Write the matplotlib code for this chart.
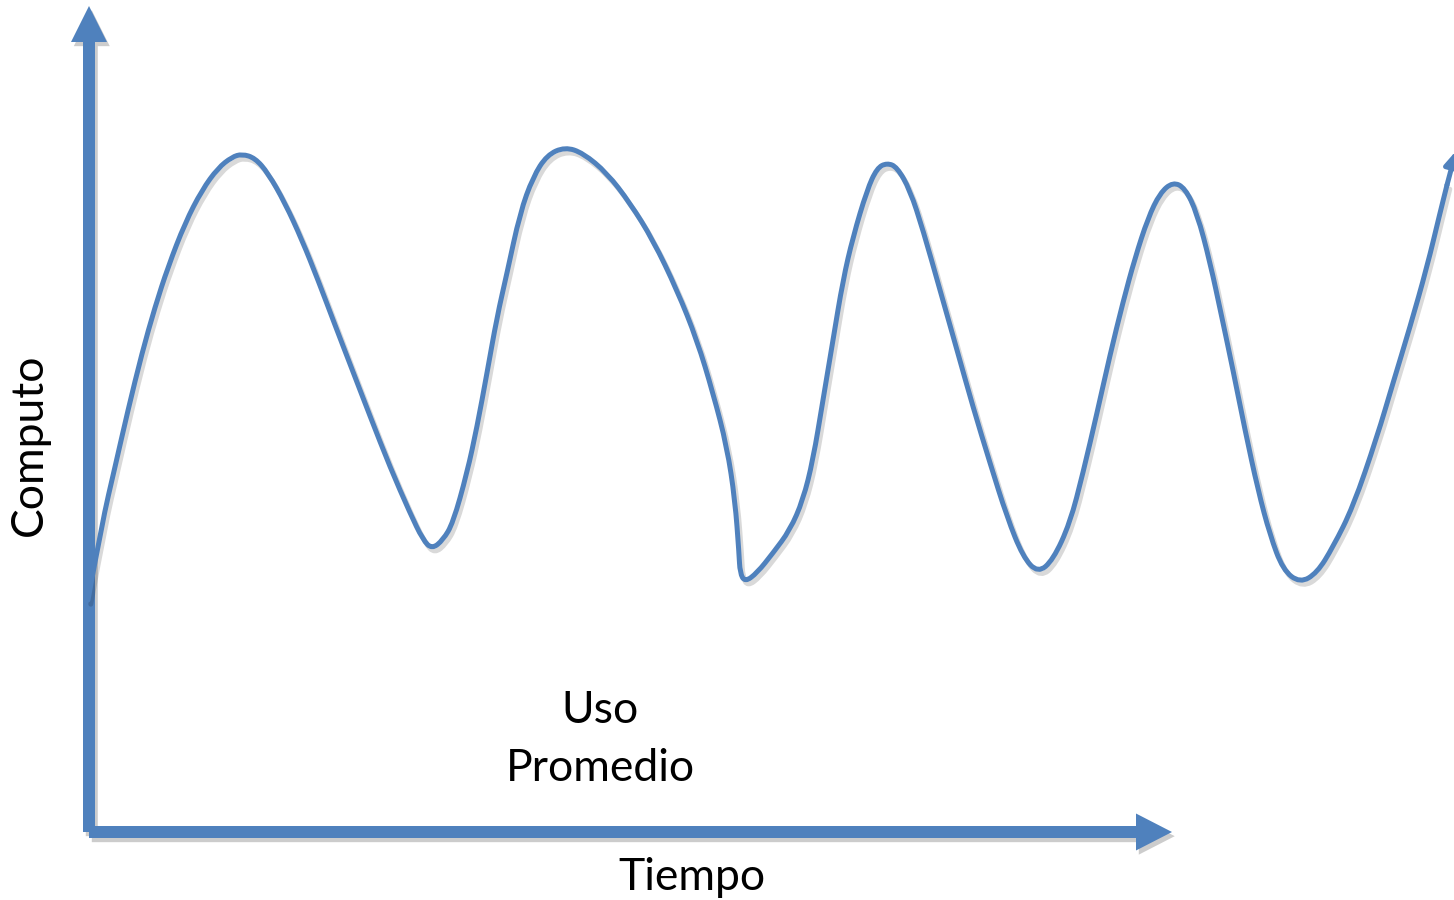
import matplotlib
matplotlib.use("Agg")
import matplotlib.pyplot as plt
import matplotlib.patheffects as pe
from matplotlib.patches import FancyArrow, PathPatch
from matplotlib.path import Path

# curve (pixel coords, y grows downwards)
curve_x = [88, 102, 115, 128, 142, 155, 168, 185, 202, 218, 232, 242, 255, 268,
           285, 302, 318, 335, 350, 370, 390, 410, 423, 432, 443, 453, 467, 477,
           487, 497, 507, 520, 533, 547, 565, 583, 607, 630, 653, 677, 697, 713,
           727, 735, 739, 740, 745, 757, 773, 790, 803, 813, 823, 833, 843, 853,
           867, 877, 887, 897, 910, 923, 940, 957, 973, 990, 1007, 1023, 1038,
           1053, 1070, 1083, 1097, 1110, 1123, 1135, 1148, 1160, 1173, 1185, 1197,
           1210, 1222, 1233, 1245, 1258, 1270, 1283, 1300, 1317, 1333, 1353, 1377,
           1393, 1410, 1427, 1440, 1447]
curve_y = [600, 523, 467, 410, 353, 307, 267, 223, 190, 168, 157, 154, 158, 173,
           203, 240, 280, 325, 364, 416, 467, 513, 540, 549, 540, 523, 473, 427,
           373, 317, 273, 213, 177, 155, 147, 153, 173, 203, 240, 290, 340, 393,
           447, 500, 553, 573, 582, 573, 553, 530, 500, 460, 400, 340, 280, 237,
           190, 168, 163, 167, 190, 230, 290, 350, 407, 463, 517, 557, 573, 560,
           523, 473, 413, 355, 302, 258, 218, 193, 182, 188, 213, 262, 318, 370,
           430, 490, 535, 570, 583, 573, 547, 507, 437, 383, 327, 267, 213, 185]
curve_tip = (1456, 151)

x_label = "Tiempo"
y_label = "Computo"
avg_label = ["Uso", "Promedio"]

BLUE = "#4F81BD"
W, H = 1454, 900

fig = plt.figure(figsize=(W / 100, H / 100), dpi=100)
ax = fig.add_axes([0, 0, 1, 1])
ax.set_xlim(0, W)
ax.set_ylim(H, 0)
ax.axis("off")

patch_shadow = [pe.SimplePatchShadow(offset=(2, -3), shadow_rgbFace="k", alpha=0.2), pe.Normal()]
line_shadow = [pe.SimpleLineShadow(offset=(2, -3), shadow_color="k", alpha=0.15), pe.Normal()]

# axes arrows
ax.add_patch(FancyArrow(89, 832, 0, 6 - 832, width=12, head_width=36, head_length=36,
                        length_includes_head=True, color=BLUE, lw=0,
                        path_effects=patch_shadow))
ax.add_patch(FancyArrow(89, 832, 1172 - 89, 0, width=12, head_width=37, head_length=36,
                        length_includes_head=True, color=BLUE, lw=0,
                        path_effects=patch_shadow))

# smooth curve: quadratic segments through midpoints of the read points
pts = list(zip(curve_x, curve_y))
verts = [pts[0]]
codes = [Path.MOVETO]
for i in range(1, len(pts) - 1):
    mid = ((pts[i][0] + pts[i + 1][0]) / 2, (pts[i][1] + pts[i + 1][1]) / 2)
    verts += [pts[i], mid]
    codes += [Path.CURVE3, Path.CURVE3]
verts.append(pts[-1])
codes.append(Path.LINETO)
ax.add_patch(PathPatch(Path(verts, codes), facecolor="none", edgecolor=BLUE, lw=3.6,
                       capstyle="round", joinstyle="round", path_effects=line_shadow))

ax.annotate("", xy=curve_tip, xytext=pts[-1], annotation_clip=False,
            arrowprops=dict(arrowstyle="-|>", color=BLUE, lw=3.6, mutation_scale=22,
                            shrinkA=0, shrinkB=0))

font = dict(family=["Lato", "DejaVu Sans"], color="black", fontsize=32)
ax.text(692, 890, x_label, ha="center", va="baseline", **font)
ax.text(29, 445, y_label, ha="center", va="center", rotation=90, **font)
ax.text(600, 723, avg_label[0], ha="center", va="baseline", **font)
ax.text(600, 781, avg_label[1], ha="center", va="baseline", **font)

fig.savefig("out.png", dpi=100)
